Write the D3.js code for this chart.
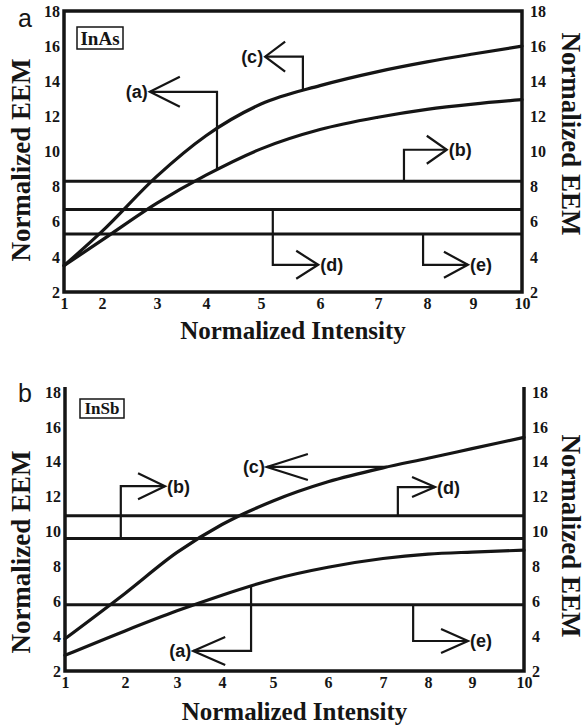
<!DOCTYPE html>
<html>
<head>
<meta charset="utf-8">
<script src="https://cdn.jsdelivr.net/npm/d3@7"></script>
<style>
  body { margin: 0; background: #fff; }
  svg { display: block; }
</style>
</head>
<body>
<svg id="chart" width="585" height="726"></svg>
<script>
// Normalized intensity (x) and tick values
const intensity = [1, 2, 3, 4, 5, 6, 7, 8, 9, 10];
const eemTicks = [2, 4, 6, 8, 10, 12, 14, 16, 18];

// (a) InAs: two EEM curves and three constant levels
const inasUpper = [3.5, 5.45, 8.6, 10.9, 12.7, 13.75, 14.55, 15.1, 15.55, 16.0];
const inasLower = [3.5, 4.95, 7.06, 8.65, 10.15, 11.25, 11.95, 12.4, 12.7, 12.95];
const inasLevels = [8.3, 6.7, 5.3];

// (b) InSb: two EEM curves and three constant levels
const insbUpper = [3.85, 6.45, 8.8, 10.4, 11.75, 12.85, 13.65, 14.2, 14.75, 15.4];
const insbLower = [2.9, 4.3, 5.45, 6.35, 7.25, 7.95, 8.45, 8.7, 8.82, 8.93];
const insbLevels = [10.9, 9.6, 5.8];

// Callouts: start on a curve or level at x = at, bend to y = bend, run to x = tip
const inasNotes = [
  { label: "(a)", on: "lower", at: 4.2, bend: 13.4, tip: 2.87, arm: [30, 15] },
  { label: "(c)", on: "upper", at: 5.71, bend: 15.4, tip: 5.07, arm: [20, 15] },
  { label: "(b)", on: 0, at: 7.53, bend: 10.1, tip: 8.43, arm: [20, 14] },
  { label: "(d)", on: 1, at: 5.2, bend: 3.55, tip: 5.97, arm: [22, 14] },
  { label: "(e)", on: 2, at: 7.92, bend: 3.55, tip: 8.89, arm: [24, 13] }
];
const insbNotes = [
  { label: "(b)", on: 1, at: 1.93, bend: 12.6, tip: 2.77, arm: [27, 13] },
  { label: "(c)", on: "upper", at: 7.09, bend: null, tip: 4.88, arm: [41, 13] },
  { label: "(d)", on: 0, at: 7.33, bend: 12.55, tip: 8.16, arm: [23, 10] },
  { label: "(a)", on: "lower", at: 4.57, bend: 3.15, tip: 3.36, arm: [32, 14] },
  { label: "(e)", on: 2, at: 7.67, bend: 3.72, tip: 8.91, arm: [27, 12] }
];

const SERIF = "'Liberation Serif', 'DejaVu Serif', serif";
const SANS = "'Liberation Sans', Arial, sans-serif";
const INK = "#151515";

const svg = d3.select("#chart");

const panels = [
  {
    letter: "a", letterPos: [18, 27], material: "InAs",
    box: { x: 77, y: 27, w: 46, h: 22, fs: 19 },
    xRange: [64, 102, 157, 206, 261, 320, 378, 427, 473, 522],
    yRange: [292, 11],
    upper: inasUpper, lower: inasLower, levels: inasLevels, notes: inasNotes,
    closedTop: true,
    xTitleY: 339, leftTitleY: 160, rightTitleY: 134
  },
  {
    letter: "b", letterPos: [18, 402], material: "InSb",
    box: { x: 80, y: 399, w: 44, h: 19, fs: 17 },
    xRange: [65, 125, 177, 222, 273, 328, 383, 428, 472, 524],
    yRange: [671, 392],
    upper: insbUpper, lower: insbLower, levels: insbLevels, notes: insbNotes,
    closedTop: false,
    xTitleY: 720, leftTitleY: 552, rightTitleY: 536
  }
];

// y pixel on a rendered path at a given x pixel (path runs left to right)
function yOnPath(node, px) {
  let lo = 0, hi = node.getTotalLength();
  for (let i = 0; i < 40; i++) {
    const mid = (lo + hi) / 2;
    if (node.getPointAtLength(mid).x < px) lo = mid; else hi = mid;
  }
  return node.getPointAtLength((lo + hi) / 2).y;
}

panels.forEach(p => {
  const x = d3.scaleLinear().domain(intensity).range(p.xRange);
  const y = d3.scaleLinear().domain([2, 18]).range(p.yRange);
  const x0 = x(1), x1 = x(10), yb = y(2), yt = y(18);
  const g = svg.append("g");

  // Tick labels
  const styleTicks = sel => {
    sel.select(".domain").remove();
    sel.selectAll("line").remove();
    sel.selectAll("text")
      .attr("font-family", SERIF).attr("font-weight", "bold")
      .attr("font-size", 16).attr("fill", INK);
  };
  g.append("g").attr("transform", `translate(${x0},0)`)
    .call(d3.axisLeft(y).tickValues(eemTicks).tickSize(0).tickPadding(4).tickFormat(d3.format("d")))
    .call(styleTicks);
  g.append("g").attr("transform", `translate(${x1},0)`)
    .call(d3.axisRight(y).tickValues(eemTicks).tickSize(0).tickPadding(8).tickFormat(d3.format("d")))
    .call(styleTicks);
  g.append("g").attr("transform", `translate(0,${yb})`)
    .call(d3.axisBottom(x).tickValues(intensity).tickSize(0).tickPadding(6).tickFormat(d3.format("d")))
    .call(styleTicks);

  // Constant levels
  g.selectAll(".level").data(p.levels).enter().append("line")
    .attr("x1", x0).attr("x2", x1)
    .attr("y1", d => y(d)).attr("y2", d => y(d))
    .attr("stroke", INK).attr("stroke-width", 3);

  // EEM curves
  const line = d3.line().x((d, i) => x(intensity[i])).y(d => y(d)).curve(d3.curveMonotoneX);
  const curves = {};
  ["upper", "lower"].forEach(k => {
    curves[k] = g.append("path").datum(p[k])
      .attr("d", line).attr("fill", "none")
      .attr("stroke", INK).attr("stroke-width", 3.2)
      .attr("stroke-linecap", "round").node();
  });

  // Frame
  const frame = p.closedTop
    ? `M${x0},${yb}V${yt}H${x1}V${yb}Z`
    : `M${x0},${yt - 5}V${yb}H${x1}V${yt - 5}`;
  g.append("path").attr("d", frame).attr("fill", "none")
    .attr("stroke", INK).attr("stroke-width", 3.5).attr("stroke-linejoin", "miter");

  // Callouts
  p.notes.forEach(n => {
    const ax = x(n.at);
    const ay = typeof n.on === "number" ? y(p.levels[n.on]) : yOnPath(curves[n.on], ax);
    const cy = n.bend == null ? ay : y(n.bend);
    const tx = x(n.tip);
    const dir = tx > ax ? 1 : -1;
    const [len, h] = n.arm;
    g.append("path")
      .attr("d", `M${ax},${ay}V${cy}H${tx}`)
      .attr("fill", "none").attr("stroke", INK).attr("stroke-width", 2.2);
    g.append("path")
      .attr("d", `M${tx - dir * len},${cy - h}L${tx},${cy}L${tx - dir * len},${cy + h}`)
      .attr("fill", "none").attr("stroke", INK).attr("stroke-width", 2.2);
    g.append("text")
      .attr("x", tx + dir * 2).attr("y", cy).attr("dy", "0.36em")
      .attr("text-anchor", dir > 0 ? "start" : "end")
      .attr("font-family", SANS).attr("font-weight", "bold").attr("font-size", 18)
      .attr("fill", INK).text(n.label);
  });

  // Material tag
  g.append("rect").attr("x", p.box.x).attr("y", p.box.y)
    .attr("width", p.box.w).attr("height", p.box.h)
    .attr("fill", "none").attr("stroke", INK).attr("stroke-width", 1.5);
  g.append("text").attr("x", p.box.x + p.box.w / 2).attr("y", p.box.y + p.box.h / 2)
    .attr("dy", "0.35em").attr("text-anchor", "middle")
    .attr("font-family", SERIF).attr("font-weight", "bold").attr("font-size", p.box.fs)
    .attr("fill", INK).text(p.material);

  // Panel letter
  g.append("text").attr("x", p.letterPos[0]).attr("y", p.letterPos[1])
    .attr("font-family", SANS).attr("font-size", 25).attr("fill", INK).text(p.letter);

  // Axis titles
  g.append("text").attr("x", (x0 + x1) / 2).attr("y", p.xTitleY)
    .attr("text-anchor", "middle").attr("font-family", SERIF).attr("font-weight", "bold")
    .attr("font-size", 25).attr("fill", INK).text("Normalized Intensity");
  g.append("text").attr("transform", `translate(30,${p.leftTitleY}) rotate(-90)`)
    .attr("text-anchor", "middle").attr("font-family", SERIF).attr("font-weight", "bold")
    .attr("font-size", 27).attr("fill", INK).text("Normalized EEM");
  g.append("text").attr("transform", `translate(562,${p.rightTitleY}) rotate(90)`)
    .attr("text-anchor", "middle").attr("font-family", SERIF).attr("font-weight", "bold")
    .attr("font-size", 27).attr("fill", INK).text("Normalized EEM");
});
</script>
</body>
</html>
